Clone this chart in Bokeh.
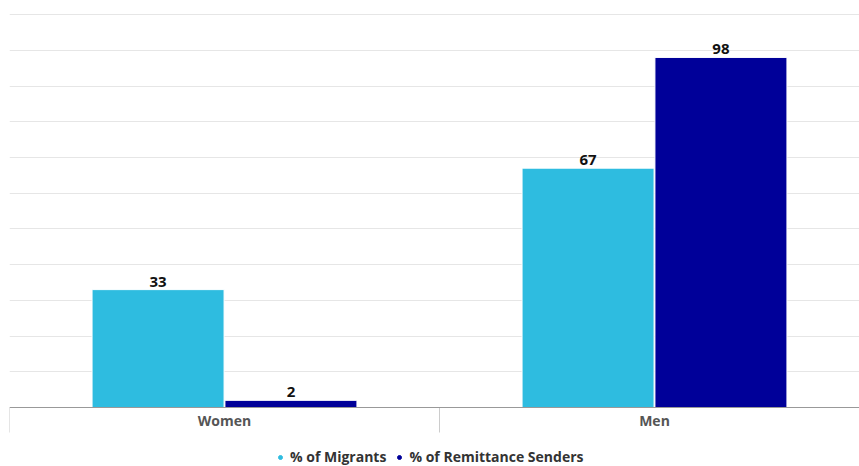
from bokeh.plotting import figure
from bokeh.models import (Range1d, FixedTicker, Legend, LegendItem, ColumnDataSource)
from bokeh.core.properties import value
from bokeh.embed import file_html
from bokeh.resources import INLINE

categories = ["Women", "Men"]
migrants = [33, 67]
remitters = [2, 98]
series_names = ["% of Migrants", "% of Remittance Senders"]
colors = ["#2ebce0", "#000099"]
grid_ticks = [10, 20, 30, 40, 50, 60, 70, 80, 90, 100, 110]

FONT = "Open Sans"
Y_MAX = 110.3
PLOT_PX = 394                 # pixel height of the value area
PX = PLOT_PX / Y_MAX          # pixels per unit
FRAME_H = 453                 # frame extends down to the bottom of the window
TICK = 25 / PX                # separator tick length in data units
Y_MIN = -(FRAME_H - PLOT_PX) / PX

p = figure(frame_width=850, frame_height=FRAME_H, output_backend="svg",
           toolbar_location=None, x_range=Range1d(0, 850 / 430),
           y_range=Range1d(Y_MIN, Y_MAX), x_axis_type=None)
p.min_border_left = 9
p.min_border_right = 0
p.min_border_top = 13
p.min_border_bottom = 0
p.outline_line_color = None
p.background_fill_color = "white"
p.border_fill_color = "white"

p.yaxis.visible = False
p.ygrid.ticker = FixedTicker(ticks=grid_ticks)
p.ygrid.grid_line_color = "#e6e6e6"
p.ygrid.grid_line_width = 1
p.xgrid.visible = False

n = len(categories)
centers = [i + 0.5 for i in range(n)]
bw = 0.307
off = 0.1545
src = ColumnDataSource(dict(
    xm=[c - off for c in centers], xr=[c + off for c in centers],
    m=migrants, r=remitters,
    ml=[str(v) for v in migrants], rl=[str(v) for v in remitters]))

p.vbar(x="xm", top="m", width=bw, bottom=0, source=src, fill_color=colors[0],
       line_color="white", line_width=1)
p.vbar(x="xr", top="r", width=bw, bottom=0, source=src, fill_color=colors[1],
       line_color="white", line_width=1)

for xk, yk, lk in (("xm", "m", "ml"), ("xr", "r", "rl")):
    p.text(x=xk, y=yk, text=lk, source=src, text_align="center",
           text_baseline="bottom", y_offset=-3, text_font=value(FONT),
           text_font_style="bold", text_font_size="15px", text_color="#111111")

# category axis: separators, baseline, labels
bounds = list(range(n + 1))
p.segment(x0=bounds, x1=bounds, y0=[0] * len(bounds), y1=[-TICK] * len(bounds),
          line_color="#cccccc", line_width=1)
p.segment(x0=[0], x1=[850 / 430], y0=[0], y1=[0], line_color="#999999", line_width=1)
p.text(x=centers, y=[-TICK / 2] * n, text=categories, text_align="center",
       text_baseline="middle", text_font=value(FONT),
       text_font_style="bold", text_font_size="14px", text_color="#555555")

# legend proxies (placed outside the visible range so only the legend shows them)
d1 = p.scatter(x=[-10], y=[-1000], marker="circle", size=10,
               fill_color=colors[0], line_color=colors[0])
d2 = p.scatter(x=[-10], y=[-1000], marker="circle", size=10,
               fill_color=colors[1], line_color=colors[1])
legend = Legend(items=[LegendItem(label=series_names[0], renderers=[d1]),
                       LegendItem(label=series_names[1], renderers=[d2])],
                orientation="horizontal", location=(266, 0),
                label_text_font=FONT, label_text_font_size="14px",
                label_text_color="#333333", label_text_font_style="bold",
                border_line_color=None, background_fill_alpha=0,
                glyph_width=10, glyph_height=10, label_height=16,
                label_standoff=5, spacing=8, padding=0, margin=0)
p.add_layout(legend, "center")

open("out.html", "w").write(file_html(p, INLINE))
